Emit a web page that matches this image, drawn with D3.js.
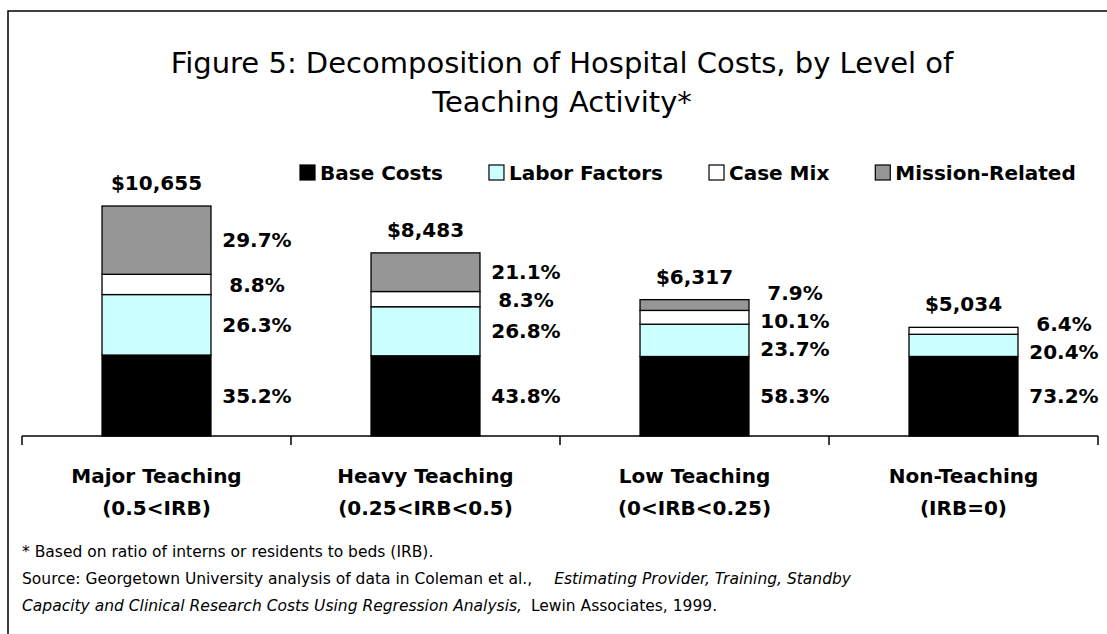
<!DOCTYPE html>
<html>
<head>
<meta charset="utf-8">
<script src="https://cdn.jsdelivr.net/npm/d3@7"></script>
<style>
    body { margin: 0; background: #fff; }
    svg { display: block; }
    text { font-family: "DejaVu Sans", Verdana, sans-serif; fill: #000; }
</style>
</head>
<body>
<div id="chart"></div>
<script>
var categories = ["Major Teaching", "Heavy Teaching", "Low Teaching", "Non-Teaching"];
var irbRanges = ["(0.5<IRB)", "(0.25<IRB<0.5)", "(0<IRB<0.25)", "(IRB=0)"];
var totals = [10655, 8483, 6317, 5034];
var seriesNames = ["Base Costs", "Labor Factors", "Case Mix", "Mission-Related"];
var baseCosts = [35.2, 43.8, 58.3, 73.2];
var laborFactors = [26.3, 26.8, 23.7, 20.4];
var caseMix = [8.8, 8.3, 10.1, 6.4];
var missionRelated = [29.7, 21.1, 7.9, 0];
var seriesColors = ["#000000", "#ccffff", "#ffffff", "#969696"];

var width = 1107, height = 634;
var axisY = 436, left = 22, right = 1098;

var svg = d3.select("#chart").append("svg")
    .attr("width", width)
    .attr("height", height);

// outer frame (runs off the right and bottom edges)
svg.append("rect")
    .attr("x", 8).attr("y", 11)
    .attr("width", 1120).attr("height", 650)
    .attr("fill", "none").attr("stroke", "#000").attr("stroke-width", 1.5);

// title
svg.append("text")
    .attr("x", 562).attr("y", 73)
    .attr("text-anchor", "middle")
    .style("font-size", "29px")
    .text("Figure 5: Decomposition of Hospital Costs, by Level of");
svg.append("text")
    .attr("x", 562).attr("y", 112)
    .attr("text-anchor", "middle")
    .style("font-size", "29px")
    .text("Teaching Activity*");

var pcts = [baseCosts, laborFactors, caseMix, missionRelated];
var rows = categories.map(function (c, i) {
    var r = { cat: c, total: totals[i] };
    seriesNames.forEach(function (s, k) { r[s] = totals[i] * pcts[k][i] / 100; });
    return r;
});

var x = d3.scaleBand()
    .domain(categories)
    .range([left, right])
    .paddingInner(0.595)
    .paddingOuter(0.2975);

var y = d3.scaleLinear()
    .domain([0, d3.max(totals)])
    .range([axisY, 206]);

var stacked = d3.stack().keys(seriesNames)(rows);

var layer = svg.selectAll("g.layer")
    .data(stacked)
    .enter().append("g")
    .attr("class", "layer")
    .attr("fill", function (d, k) { return seriesColors[k]; });

layer.selectAll("rect")
    .data(function (d) { return d.filter(function (p) { return p[1] - p[0] > 0; }); })
    .enter().append("rect")
    .attr("x", function (p) { return x(p.data.cat); })
    .attr("y", function (p) { return y(p[1]); })
    .attr("width", x.bandwidth())
    .attr("height", function (p) { return y(p[0]) - y(p[1]); })
    .attr("stroke", "#000")
    .attr("stroke-width", 1.3);

// axis line and ticks at category boundaries
svg.append("line")
    .attr("x1", left).attr("x2", right)
    .attr("y1", axisY).attr("y2", axisY)
    .attr("stroke", "#000").attr("stroke-width", 1.5);
d3.range(categories.length + 1).forEach(function (i) {
    var tx = left + i * x.step();
    svg.append("line")
        .attr("x1", tx).attr("x2", tx)
        .attr("y1", axisY).attr("y2", axisY + 9)
        .attr("stroke", "#000").attr("stroke-width", 1.5);
});

// category labels
categories.forEach(function (c, i) {
    var cx = x(c) + x.bandwidth() / 2;
    svg.append("text")
        .attr("x", cx).attr("y", 483)
        .attr("text-anchor", "middle")
        .style("font-size", "20px").style("font-weight", "bold")
        .text(c);
    svg.append("text")
        .attr("x", cx).attr("y", 515)
        .attr("text-anchor", "middle")
        .style("font-size", "20px").style("font-weight", "bold")
        .text(irbRanges[i]);
});

// totals above bars
categories.forEach(function (c, i) {
    svg.append("text")
        .attr("x", x(c) + x.bandwidth() / 2)
        .attr("y", y(totals[i]) - 16)
        .attr("text-anchor", "middle")
        .style("font-size", "20px").style("font-weight", "bold")
        .text("$" + d3.format(",")(totals[i]));
});

// percent labels beside each segment, spread apart when they crowd
var gap = 28;
categories.forEach(function (c, i) {
    var labs = [];
    stacked.forEach(function (s, k) {
        var p = s[i];
        if (p[1] - p[0] <= 0) return;
        labs.push({ y: (y(p[0]) + y(p[1])) / 2, text: pcts[k][i].toFixed(1) + "%" });
    });
    labs.sort(function (a, b) { return a.y - b.y; });
    for (var it = 0; it < 200; it++) {
        for (var j = 0; j < labs.length - 1; j++) {
            var d = labs[j + 1].y - labs[j].y;
            if (d < gap) {
                var sh = (gap - d) / 2;
                labs[j].y -= sh;
                labs[j + 1].y += sh;
            }
        }
    }
    labs.forEach(function (l) {
        svg.append("text")
            .attr("x", x(c) + x.bandwidth() + 46)
            .attr("y", l.y)
            .attr("dy", "0.36em")
            .attr("text-anchor", "middle")
            .style("font-size", "20px").style("font-weight", "bold")
            .text(l.text);
    });
});

// legend
var legend = svg.append("g").attr("class", "legend");
var lx = 300;
seriesNames.forEach(function (s, k) {
    legend.append("rect")
        .attr("x", lx).attr("y", 165)
        .attr("width", 15).attr("height", 15)
        .attr("fill", seriesColors[k])
        .attr("stroke", "#000").attr("stroke-width", 1.2);
    var t = legend.append("text")
        .attr("x", lx + 20).attr("y", 172.5)
        .attr("dy", "0.36em")
        .style("font-size", "20px").style("font-weight", "bold")
        .text(s);
    lx += 20 + t.node().getComputedTextLength() + 46;
});

// footnotes
svg.append("text")
    .attr("x", 22).attr("y", 557)
    .style("font-size", "15.5px")
    .text("* Based on ratio of interns or residents to beds (IRB).");
var src = svg.append("text")
    .attr("x", 22).attr("y", 584)
    .style("font-size", "15.5px");
src.append("tspan").text("Source: Georgetown University analysis of data in Coleman et al.,");
src.append("tspan").attr("dx", 22).style("font-style", "italic")
    .text("Estimating Provider, Training, Standby");
var src2 = svg.append("text")
    .attr("x", 22).attr("y", 611)
    .style("font-size", "15.5px");
src2.append("tspan").style("font-style", "italic")
    .text("Capacity and Clinical Research Costs Using Regression Analysis,");
src2.append("tspan").attr("dx", 9).text("Lewin Associates, 1999.");
</script>
</body>
</html>
